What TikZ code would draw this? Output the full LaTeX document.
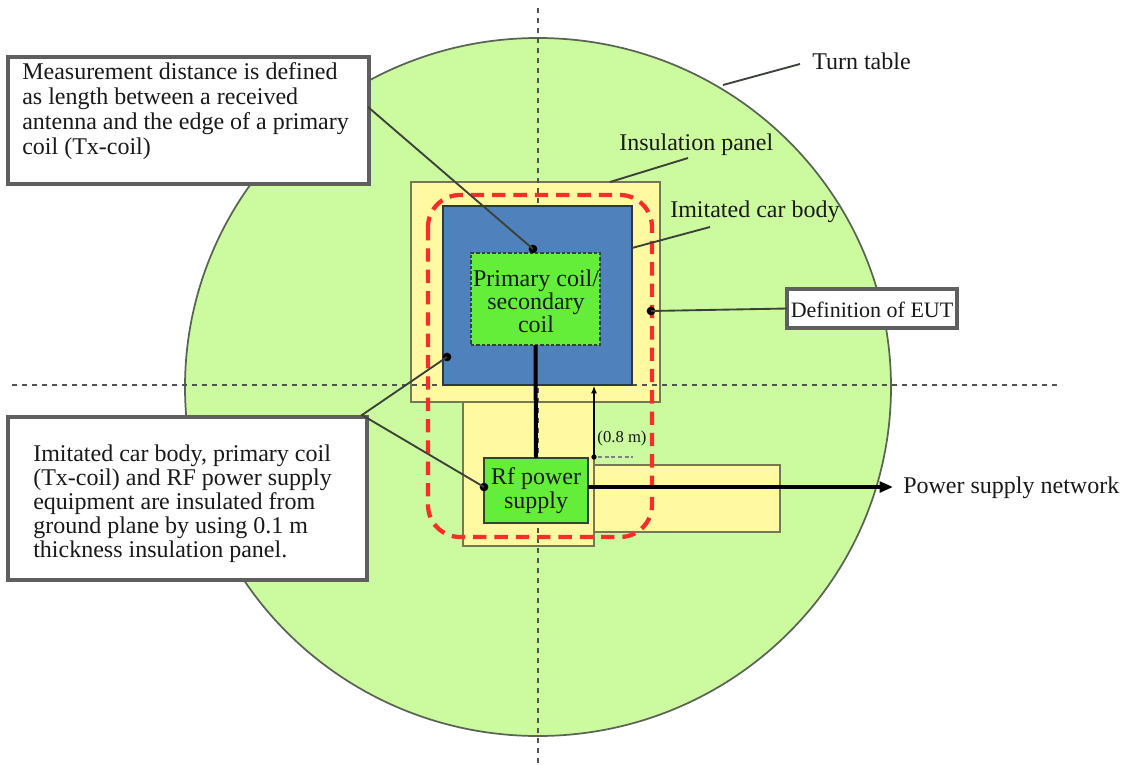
\documentclass[tikz,border=0pt]{standalone}
\usepackage{fontspec}
\setmainfont{Liberation Serif}
\usetikzlibrary{arrows.meta,fit}

\definecolor{tablegreen}{RGB}{204,250,158}
\definecolor{tableedge}{RGB}{90,100,85}
\definecolor{paneyellow}{RGB}{255,250,162}
\definecolor{paneedge}{RGB}{120,118,88}
\definecolor{carblue}{RGB}{79,129,189}
\definecolor{caredge}{RGB}{45,55,70}
\definecolor{coilgreen}{RGB}{100,238,58}
\definecolor{coiledge}{RGB}{45,70,60}
\definecolor{eutred}{RGB}{250,45,40}
\definecolor{boxgray}{RGB}{95,95,95}
\definecolor{leadgray}{RGB}{60,66,56}
\definecolor{axisgray}{RGB}{80,85,80}
\definecolor{inkblack}{RGB}{25,25,25}

\begin{document}
\begin{tikzpicture}[x=0.75pt,y=-0.75pt,
  every node/.style={text=inkblack},
  big/.style={font=\fontsize{18}{18.75}\selectfont},
  region/.style={inner sep=0pt, outer sep=0pt},
  panel/.style={region, fill=paneyellow, draw=paneedge, line width=1.2pt},
  callout/.style={region, fill=white, draw=boxgray, line width=2.7pt},
  axisline/.style={draw=axisgray, line width=1.3pt, dash pattern=on 4pt off 3.5pt},
  leader/.style={draw=leadgray, line width=1.4pt},
  dotmark/.style={circle, fill=black, inner sep=0pt, outer sep=0pt, minimum size=6.5pt},
  lbl/.style={big, inner sep=0pt, anchor=base west},
  % multi-line texts are placed by the baseline of their last line
  block/.style={inner sep=0pt, anchor=base, align=center}
]
\useasboundingbox (0,0) rectangle (1127,764);

% turn table
\path[fill=tablegreen, draw=tableedge, line width=1.3pt]
  (538,387) ellipse [x radius=353, y radius=349];

% insulation panels
\node[panel, fit={(594,465) (780,532)}] (panelright) {};
\node[panel, fit={(463,395) (594,546)}] (panellow) {};
\node[panel, fit={(411,182) (660,402)}] (paneltop) {};

% centre axes of the turn table
\draw[axisline] (538,8) -- (538,764);
\draw[axisline] (12,385) -- (1062,385);

% imitated car body
\node[region, fill=carblue, draw=caredge, line width=1.1pt, fit={(443,206) (632,385)}] (car) {};

% primary / secondary coil
\node[region, fill=coilgreen, draw=coiledge, line width=1.2pt,
      dash pattern=on 2.5pt off 1.5pt, fit={(471,253) (600,345)}] (coil) {};
\node[block, font=\fontsize{18}{17}\selectfont] (coiltext) at (536,332)
  {Primary coil/\\secondary\\coil};

% RF power supply
\node[region, fill=coilgreen, draw=coiledge, line width=1.2pt,
      fit={(484,458) (588,523)}] (rf) {};
\node[block, font=\fontsize{18}{18}\selectfont] (rftext) at (536,508) {Rf power\\supply};

% EUT boundary
\draw[eutred, line width=3.2pt, dash pattern=on 10pt off 6pt, rounded corners=24pt]
  (428,195) rectangle (652,537);

% feed from the supply to the coil
\draw[black, line width=3pt] (coil.south) -- (rf.north);

% mains connection
\coordinate (mains) at (893,487);
\draw[black, line width=2.7pt, -{Triangle[length=10pt,width=8pt]}] (rf.east |- mains) -- (mains);
\node[lbl] (mainstext) at (903,493) {Power supply network};

% 0.8 m spacing
\node[dotmark, minimum size=4pt] (gapdot) at (594,457) {};
\coordinate (gaptop) at (594,386);
\draw[black, line width=0.9pt, -{Latex[length=5.5pt,width=4.5pt]}] (gapdot.center) -- (gaptop);
\coordinate (gapend) at (633,457);
\draw[gray, line width=1.5pt, dash pattern=on 3pt off 2pt] (598,457) -- (gapend);
\node[font=\fontsize{12.5}{14}\selectfont, inner sep=0pt, anchor=base] (gaplabel) at (622,442) {(0.8 m)};

% callout boxes
\node[callout, fit={(8,57) (369,184)}] (measbox) {};
\node[big, inner sep=0pt, anchor=base west, align=left] (meastext) at (22,154)
  {Measurement distance is defined\\as length between a received\\antenna and the edge of a primary\\coil (Tx-coil)};

\node[callout, fit={(8,417) (367,580)}] (insbox) {};
\node[font=\fontsize{18}{18}\selectfont, inner sep=0pt, anchor=base west, align=left] (instext) at (33,557)
  {Imitated car body, primary coil\\(Tx-coil) and RF power supply\\equipment are insulated from\\ground plane by using 0.1 m\\thickness insulation panel.};

\node[callout, line width=2.3pt, fit={(787,289) (957,328)}] (eut) {};
\node[font=\fontsize{16.5}{18}\selectfont, inner sep=0pt, anchor=base] (euttext) at (872,317) {Definition of EUT};

% pointer dots
\node[dotmark] (measdot) at (533,249) {};
\node[dotmark] (cardot) at (447,357) {};
\node[dotmark] (rfdot) at (484,487) {};
\node[dotmark] (eutdot) at (651,311) {};

% leaders from the callouts
\coordinate (measout) at (368,107);
\coordinate (insout) at (362,415);
\draw[leader] (measout) -- (measdot.center);
\draw[leader] (cardot.center) -- (insout) -- (rfdot.center);
\draw[leader] (eutdot.center) -- (eut.west);

% plain labels and their leaders
\coordinate (ttedge) at (723,85);
\coordinate (ttend) at (800,64);
\draw[leader] (ttedge) -- (ttend);
\node[lbl] (tttext) at (812,69) {Turn table};

\coordinate (panedge) at (610,182);
\coordinate (panend) at (688,158);
\draw[leader] (panedge) -- (panend);
\node[lbl] (pantext) at (619,150) {Insulation panel};

\coordinate (caredgept) at (632,248);
\coordinate (carend) at (710,227);
\draw[leader] (caredgept) -- (carend);
\node[lbl] (cartext) at (670,217) {Imitated car body};

\end{tikzpicture}
\end{document}
